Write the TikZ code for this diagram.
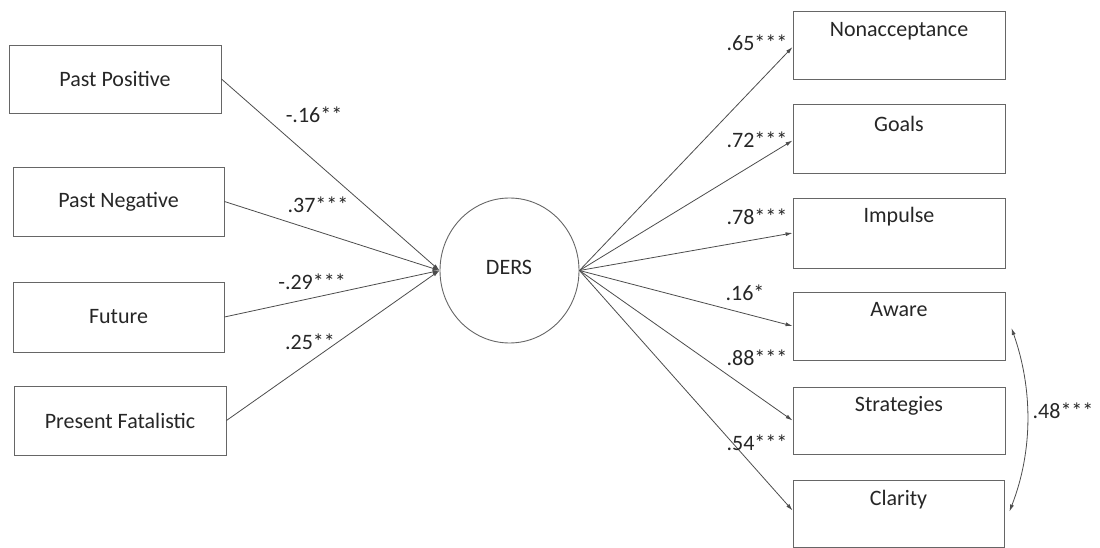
\documentclass[tikz,border=0pt]{standalone}
\usepackage{fontspec}
\setmainfont{Carlito}
\usetikzlibrary{arrows.meta,shapes.geometric}
\begin{document}
\begin{tikzpicture}[x=1pt,y=-1pt,
  every node/.style={font=\fontsize{22}{26}\selectfont, text=black!85},
  lbox/.style={draw=black!60, line width=0.9pt, minimum width=212pt, inner sep=0pt},
  rbox/.style={draw=black!60, line width=0.9pt, minimum width=212pt, inner sep=0pt},
  rtext/.style={anchor=base, inner sep=0pt},
  path/.style={draw=black!70, line width=0.8pt, -{Latex[length=7pt,width=4pt]}},
  coef/.style={inner sep=0pt}
]
\useasboundingbox (0,0) rectangle (1100,548);
% left boxes
\node[lbox, minimum height=68pt] (pp) at (115,79) {Past Positive};
\node[lbox, minimum height=69pt, minimum width=211pt] (pn) at (118.5,201.5) {Past Negative};
\node[lbox, minimum height=70pt, minimum width=211pt] (fu) at (118.5,317) {Future};
\node[lbox, minimum height=69pt] (pf) at (120,420.5) {Present Fatalistic};
% central latent
\node[draw=black!60, line width=0.9pt, ellipse, minimum width=139pt, minimum height=145pt, inner sep=0pt] (ders) at (509.5,270.5) {};
\node[inner sep=0pt] (derst) at (509,267) {DERS};
% right boxes
\node[rbox, minimum height=68pt] (non) at (899,45) {};
\node[rbox, minimum height=69pt] (goa) at (899,138.5) {};
\node[rbox, minimum height=70pt] (imp) at (899,233) {};
\node[rbox, minimum height=68pt] (awa) at (899,326) {};
\node[rbox, minimum height=67pt] (str) at (899,420.5) {};
\node[rbox, minimum height=67pt, minimum width=211pt] (cla) at (898.5,513.5) {};
\node[rtext] (nont) at ([yshift=-26pt]non.north) {Nonacceptance};
\node[rtext] (goat) at ([yshift=-28pt]goa.north) {Goals};
\node[rtext] (impt) at ([yshift=-25pt]imp.north) {Impulse};
\node[rtext] (awat) at ([yshift=-25pt]awa.north) {Aware};
\node[rtext] (strt) at ([yshift=-25pt]str.north) {Strategies};
\node[rtext] (clat) at ([yshift=-26pt]cla.north) {Clarity};
% paths in
\draw[path] (pp.east) -- (ders.west);
\draw[path] (pn.east) -- (ders.west);
\draw[path] (fu.east) -- (ders.west);
\draw[path] (pf.east) -- (ders.west);
% paths out
\draw[path] (ders.east) -- ([yshift=-2pt]non.west);
\draw[path] (ders.east) -- ([yshift=-2pt]goa.west);
\draw[path] (ders.east) -- (imp.west);
\draw[path] (ders.east) -- (awa.west);
\draw[path] (ders.east) -- (str.west);
\draw[path] (ders.east) -- ([yshift=3pt]cla.west);
% covariance
\draw[draw=black!70, line width=0.8pt, {Latex[length=7pt,width=4pt]}-{Latex[length=7pt,width=4pt]}]
  ([xshift=6pt,yshift=-2pt]awa.east) .. controls (1033,389) and (1033,451) .. ([xshift=5pt,yshift=2pt]cla.east);
% coefficients
\node[coef] (c1) at (314,115) {-.16**};
\node[coef] (c2) at (318,205) {.37***};
\node[coef] (c3) at (312,282) {-.29***};
\node[coef] (c4) at (310,342) {.25**};
\node[coef] (c5) at (757,43) {.65***};
\node[coef] (c6) at (757,140) {.72***};
\node[coef] (c7) at (757,217) {.78***};
\node[coef] (c8) at (745,293) {.16*};
\node[coef] (c9) at (757,358) {.88***};
\node[coef] (c10) at (757,443) {.54***};
\node[coef] (c11) at (1063,411) {.48***};
\end{tikzpicture}
\end{document}
